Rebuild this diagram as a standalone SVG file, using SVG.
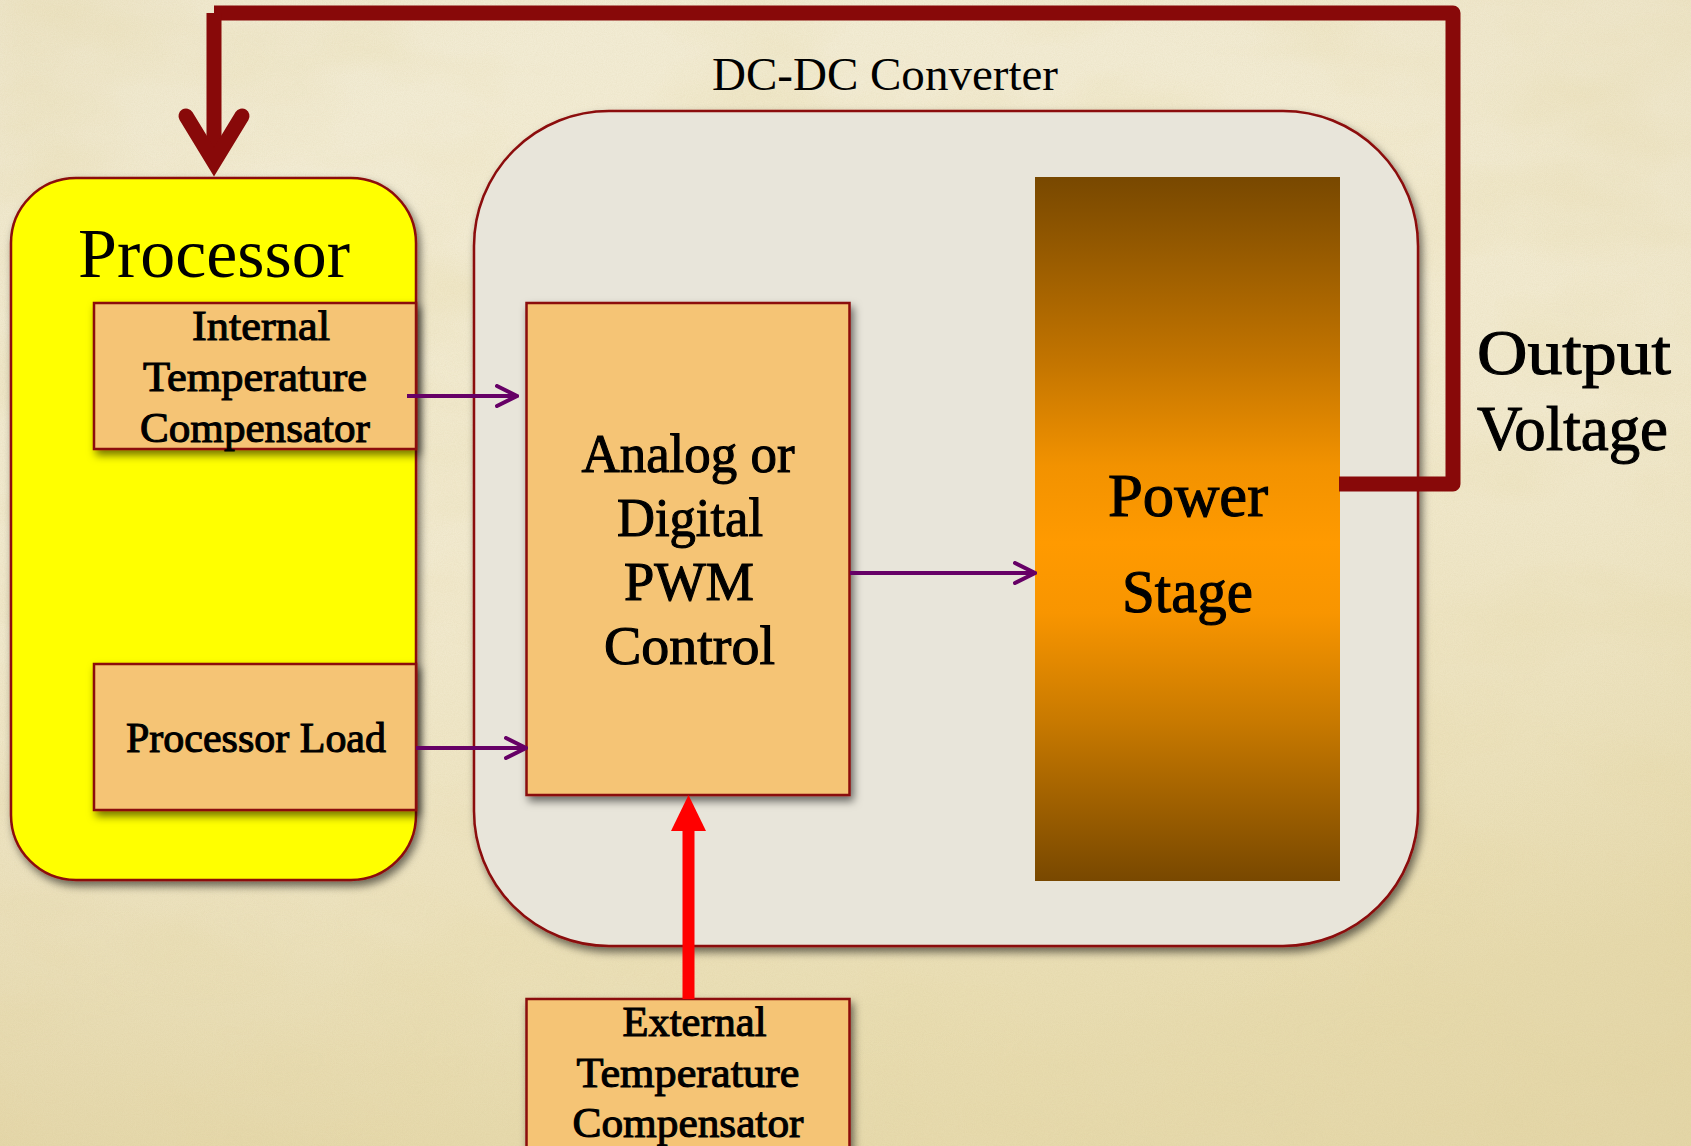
<svg xmlns="http://www.w3.org/2000/svg" width="1691" height="1146" viewBox="0 0 1691 1146">
  <defs>
    <linearGradient id="paper" x1="0" y1="0" x2="0.25" y2="1">
      <stop offset="0" stop-color="#F2ECD5"/>
      <stop offset="0.55" stop-color="#F1E9CE"/>
      <stop offset="1" stop-color="#E8DCB0"/>
    </linearGradient>
    <radialGradient id="vignette" cx="0.5" cy="0.45" r="0.75">
      <stop offset="0.6" stop-color="#C8B070" stop-opacity="0"/>
      <stop offset="1" stop-color="#C8B070" stop-opacity="0.15"/>
    </radialGradient>
    <linearGradient id="stageFill" x1="0" y1="0" x2="0" y2="1">
      <stop offset="0" stop-color="#784800"/>
      <stop offset="0.26" stop-color="#C27400"/>
      <stop offset="0.41" stop-color="#F29200"/>
      <stop offset="0.52" stop-color="#FF9A00"/>
      <stop offset="0.62" stop-color="#F89500"/>
      <stop offset="0.77" stop-color="#C97A00"/>
      <stop offset="1" stop-color="#784800"/>
    </linearGradient>
    <filter id="grain" x="0" y="0" width="100%" height="100%">
      <feTurbulence type="fractalNoise" baseFrequency="0.9" numOctaves="2" seed="4" result="n"/>
      <feColorMatrix in="n" type="matrix" values="0 0 0 0 0.55  0 0 0 0 0.45  0 0 0 0 0.2  0 0 0 -1.1 0.75"/>
    </filter>
    <filter id="blotch" x="0" y="0" width="100%" height="100%">
      <feTurbulence type="fractalNoise" baseFrequency="0.006 0.012" numOctaves="3" seed="9" result="n"/>
      <feColorMatrix in="n" type="matrix" values="0 0 0 0 0.8  0 0 0 0 0.7  0 0 0 0 0.4  0 0 0 -2.2 1.25"/>
    </filter>
    <filter id="shadow" x="-10%" y="-10%" width="125%" height="125%">
      <feGaussianBlur in="SourceAlpha" stdDeviation="4"/>
      <feOffset dx="3" dy="5" result="b"/>
      <feFlood flood-color="#000" flood-opacity="0.55"/>
      <feComposite in2="b" operator="in"/>
      <feMerge>
        <feMergeNode/>
        <feMergeNode in="SourceGraphic"/>
      </feMerge>
    </filter>
    <marker id="openHead" viewBox="0 0 24 24" refX="22" refY="12" markerWidth="24" markerHeight="24" markerUnits="userSpaceOnUse" orient="auto">
      <path d="M2,2 L22,12 L2,22" fill="none" stroke="#660066" stroke-width="4" stroke-linecap="round" stroke-linejoin="miter"/>
    </marker>
  </defs>

  <style>
    .box { stroke: #8B0A0A; stroke-width: 2.5; }
    .inner { fill: #F5C475; }
    .lbl { font-family: "Liberation Serif", "DejaVu Serif", serif; fill: #000; text-anchor: middle; }
    .heavy { stroke: #000; stroke-width: 1.1; paint-order: stroke; }
    .signal { fill: none; stroke: #660066; stroke-width: 4; }
    .feedback { fill: none; stroke: #880909; stroke-width: 15; }
  </style>

  <!-- parchment backdrop -->
  <rect x="0" y="0" width="1691" height="1146" fill="url(#paper)"/>
  <rect x="0" y="0" width="1691" height="1146" filter="url(#blotch)" opacity="0.3"/>
  <rect x="0" y="0" width="1691" height="1146" filter="url(#grain)" opacity="0.16"/>
  <rect x="0" y="0" width="1691" height="1146" fill="url(#vignette)"/>

  <!-- converter enclosure -->
  <g id="dcdc-converter">
    <rect class="box" x="474" y="111" width="944" height="835" rx="135" ry="135" fill="#E8E5DA" filter="url(#shadow)"/>
    <text class="lbl" x="885" y="90" font-size="47" textLength="346" lengthAdjust="spacingAndGlyphs">DC-DC Converter</text>
  </g>

  <!-- processor block -->
  <g id="processor">
    <rect class="box" x="11" y="178" width="405" height="702" rx="65" ry="65" fill="#FFFF00" filter="url(#shadow)"/>
    <text class="lbl" x="214" y="277" font-size="70" textLength="272" lengthAdjust="spacingAndGlyphs">Processor</text>
  </g>

  <g id="internal-compensator">
    <rect class="box inner" x="94" y="303" width="322" height="146" filter="url(#shadow)"/>
    <text class="lbl heavy" x="261" y="340" font-size="43" textLength="138" lengthAdjust="spacingAndGlyphs">Internal</text>
    <text class="lbl heavy" x="255" y="391" font-size="43" textLength="224" lengthAdjust="spacingAndGlyphs">Temperature</text>
    <text class="lbl heavy" x="255" y="442" font-size="43" textLength="230" lengthAdjust="spacingAndGlyphs">Compensator</text>
  </g>

  <g id="processor-load">
    <rect class="box inner" x="94" y="664" width="322" height="146" filter="url(#shadow)"/>
    <text class="lbl heavy" x="256" y="752" font-size="43" textLength="260" lengthAdjust="spacingAndGlyphs">Processor Load</text>
  </g>

  <g id="pwm-control">
    <rect class="box inner" x="526.5" y="303" width="323" height="492" filter="url(#shadow)"/>
    <text class="lbl heavy" x="688" y="472" font-size="55" textLength="213" lengthAdjust="spacingAndGlyphs">Analog or</text>
    <text class="lbl heavy" x="690" y="536" font-size="55" textLength="146" lengthAdjust="spacingAndGlyphs">Digital</text>
    <text class="lbl heavy" x="689" y="600" font-size="55" textLength="130" lengthAdjust="spacingAndGlyphs">PWM</text>
    <text class="lbl heavy" x="689.5" y="664" font-size="55" textLength="171" lengthAdjust="spacingAndGlyphs">Control</text>
  </g>

  <g id="power-stage">
    <rect x="1035" y="177" width="305" height="704" fill="url(#stageFill)"/>
    <text class="lbl heavy" x="1188" y="516" font-size="62" textLength="160" lengthAdjust="spacingAndGlyphs">Power</text>
    <text class="lbl heavy" x="1187.5" y="612" font-size="62" textLength="131" lengthAdjust="spacingAndGlyphs">Stage</text>
  </g>

  <g id="external-compensator">
    <rect class="box inner" x="526.5" y="999" width="323" height="170" filter="url(#shadow)"/>
    <text class="lbl heavy" x="694.5" y="1036" font-size="43" textLength="144" lengthAdjust="spacingAndGlyphs">External</text>
    <text class="lbl heavy" x="688" y="1087" font-size="43" textLength="223" lengthAdjust="spacingAndGlyphs">Temperature</text>
    <text class="lbl heavy" x="688" y="1137" font-size="43" textLength="231" lengthAdjust="spacingAndGlyphs">Compensator</text>
  </g>

  <g id="output-voltage">
    <text class="lbl heavy" x="1574" y="374" font-size="64" textLength="194" lengthAdjust="spacingAndGlyphs">Output</text>
    <text class="lbl heavy" x="1572.5" y="450" font-size="64" textLength="191" lengthAdjust="spacingAndGlyphs">Voltage</text>
  </g>

  <!-- connectors -->
  <g id="connectors">
    <!-- signals into the PWM controller and on to the power stage -->
    <path class="signal" d="M407,396 H517" marker-end="url(#openHead)"/>
    <path class="signal" d="M416,748 H526" marker-end="url(#openHead)"/>
    <path class="signal" d="M850,573 H1035" marker-end="url(#openHead)"/>

    <!-- external compensation input -->
    <rect x="682.5" y="828" width="12" height="171" fill="#FF0000"/>
    <path d="M688.5,795 L706,831 L671,831 Z" fill="#FF0000"/>

    <!-- output voltage fed back to the processor -->
    <path class="feedback" d="M1339,484 H1453 V13 H214" stroke-linejoin="round"/>
    <path class="feedback" d="M214,13 V162"/>
    <path class="feedback" d="M186,116 L214,162 L242,116" stroke-linecap="round" stroke-linejoin="miter"/>
  </g>
</svg>
